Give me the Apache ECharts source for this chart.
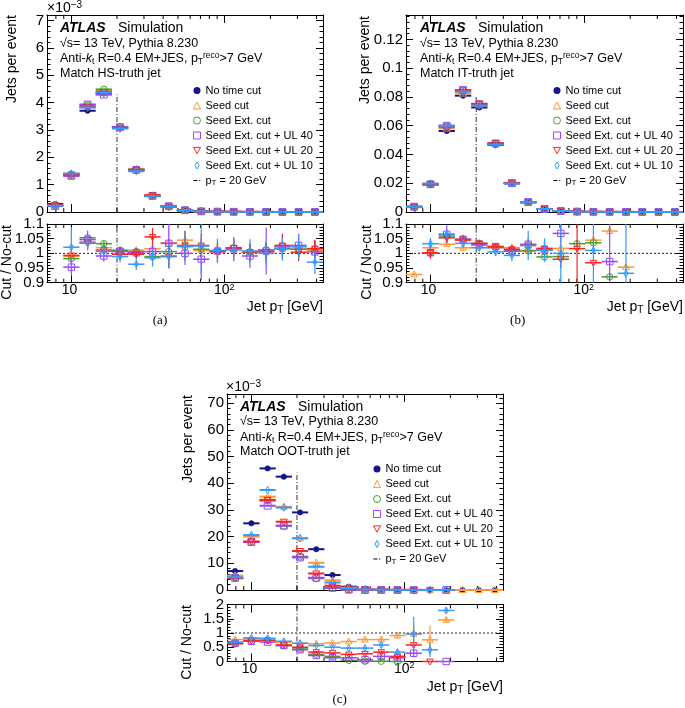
<!DOCTYPE html>
<html><head><meta charset="utf-8">
<script src="https://cdn.jsdelivr.net/npm/echarts@6/dist/echarts.min.js"></script>
<style>html,body{margin:0;padding:0;background:#fff}#c{width:685px;height:708px}</style>
</head><body><div id="c"></div><script>
// ---------------- data ----------------
const binEdges = [7, 8.93, 11.40, 14.54, 18.55, 23.67, 30.20, 38.53, 49.16, 62.73, 80.03, 102.1, 130.3, 166.2, 212.1, 270.6, 345.3, 440.5];
const xRange = [7, 440.5];
const xMinorTicks = [8, 9, 20, 30, 40, 50, 60, 70, 80, 90, 200, 300, 400];
const ptCut = 20;
const ptLineTops = [4.3, 0.08, 44];
const seriesNames = ['No time cut', 'Seed cut', 'Seed Ext. cut', 'Seed Ext. cut + UL 40', 'Seed Ext. cut + UL 20', 'Seed Ext. cut + UL 10'];
const ptName = 'pT = 20 GeV';
// y tick labels
const yTicksA = [0, 1, 2, 3, 4, 5, 6, 7];
const yTicksB = [0, 0.02, 0.04, 0.06, 0.08, 0.1, 0.12];
const yTicksC = [0, 10, 20, 30, 40, 50, 60, 70];
const rTicksAB = [0.9, 0.95, 1, 1.05, 1.1];
const rTicksC = [0, 0.5, 1, 1.5, 2];

// (a) HS-truth, jets per event x 10^-3
const hsNoCut = [0.29, 1.38, 3.70, 4.33, 3.08, 1.54, 0.59, 0.20, 0.065, 0.025, 0.012, 0.006, 0.003, 0.0015, 0.0008, 0.0004, 0.0002];
const hsSeed  = [0.25, 1.33, 3.86, 4.42, 3.10, 1.56, 0.60, 0.21, 0.068, 0.025, 0.012, 0.006, 0.003, 0.0015, 0.0008, 0.0004, 0.0002];
const hsExt   = [0.24, 1.35, 3.90, 4.48, 3.11, 1.55, 0.58, 0.20, 0.066, 0.025, 0.012, 0.006, 0.003, 0.0015, 0.0008, 0.0004, 0.0002];
const hsUL40  = [0.22, 1.32, 3.93, 4.29, 3.10, 1.54, 0.59, 0.21, 0.065, 0.025, 0.012, 0.006, 0.003, 0.0015, 0.0008, 0.0004, 0.0002];
const hsUL20  = [0.25, 1.37, 3.83, 4.38, 3.07, 1.54, 0.62, 0.20, 0.067, 0.026, 0.012, 0.006, 0.003, 0.0015, 0.0008, 0.0004, 0.0002];
const hsUL10  = [0.23, 1.41, 3.82, 4.36, 3.05, 1.49, 0.58, 0.20, 0.066, 0.026, 0.012, 0.006, 0.003, 0.0015, 0.0008, 0.0004, 0.0002];
const hsRSeed = [null, 0.990, 1.040, 1.019, 1.008, 1.011, 1.016, 1.036, 1.045, 1.010, 1.008, 1.012, 1.005, 1.008, 1.016, 1.015, 1.010];
const hsRExt  = [null, 0.982, 1.053, 1.033, 1.011, 1.006, 0.989, 1.006, 1.023, 1.014, 1.008, 1.019, 1.005, 1.012, 1.016, 1.014, 1.016];
const hsRUL40 = [null, 0.953, 1.047, 0.991, 1.006, 1.002, 1.006, 1.034, 1.000, 0.980, 1.008, 1.016, 0.991, 1.008, 1.022, 1.027, 1.005];
const hsRUL20 = [null, 0.993, 1.035, 1.011, 0.997, 0.997, 1.056, 0.989, 1.027, 1.027, 1.005, 1.019, 1.005, 1.005, 1.027, 1.004, 1.016];
const hsRUL10 = [null, 1.021, 1.035, 1.007, 0.989, 0.963, 0.985, 0.991, 1.025, 1.025, 1.010, 1.012, 1.008, 1.000, 1.015, 1.022, 0.970];
const hsESeed = [null, 0.012, 0.010, 0.010, 0.010, 0.010, 0.012, 0.015, 0.020, 0.025, 0.025, 0.025, 0.025, 0.025, 0.025, 0.025, 0.025];
const hsEExt  = [null, 0.012, 0.010, 0.010, 0.010, 0.010, 0.012, 0.015, 0.020, 0.025, 0.025, 0.025, 0.025, 0.025, 0.025, 0.025, 0.025];
const hsEUL40 = [null, 0.030, 0.030, 0.020, 0.015, 0.015, 0.020, 0.085, 0.040, 0.070, 0.040, 0.040, 0.040, 0.080, 0.040, 0.040, 0.040];
const hsEUL20 = [null, 0.020, 0.020, 0.015, 0.015, 0.015, 0.030, 0.040, 0.050, 0.040, 0.030, 0.030, 0.030, 0.030, 0.040, 0.030, 0.030];
const hsEUL10 = [null, 0.068, 0.025, 0.020, 0.020, 0.020, 0.030, 0.040, 0.050, 0.095, 0.040, 0.040, 0.040, 0.040, 0.040, 0.040, 0.040];

// (b) IT-truth, jets per event
const itNoCut = [0.0035, 0.0192, 0.0563, 0.0809, 0.0727, 0.0466, 0.0199, 0.0067, 0.0021, 0.0007, 0.00025, 0.0001, 0.00005, 0.00003, 0.00002, 0.00001, 0.00001];
const itSeed  = [0.0033, 0.0196, 0.0581, 0.0824, 0.0747, 0.0477, 0.0203, 0.0068, 0.0021, 0.0007, 0.00025, 0.0001, 0.00005, 0.00003, 0.00002, 0.00001, 0.00001];
const itExt   = [0.0036, 0.0193, 0.0596, 0.0848, 0.0752, 0.0475, 0.0201, 0.0068, 0.0021, 0.0007, 0.00026, 0.0001, 0.00005, 0.00003, 0.00002, 0.00001, 0.00001];
const itUL40  = [0.0037, 0.0193, 0.0600, 0.0848, 0.0749, 0.0477, 0.0201, 0.0069, 0.0021, 0.0007, 0.00025, 0.0001, 0.00005, 0.00003, 0.00002, 0.00001, 0.00001];
const itUL20  = [0.0036, 0.0193, 0.0593, 0.0845, 0.0752, 0.0477, 0.0202, 0.0069, 0.0021, 0.0007, 0.00025, 0.0001, 0.00005, 0.00003, 0.00002, 0.00001, 0.00001];
const itUL10  = [0.0036, 0.0198, 0.0600, 0.0837, 0.0741, 0.0468, 0.0198, 0.0069, 0.0021, 0.0007, 0.00025, 0.0001, 0.00005, 0.00003, 0.00002, 0.00001, 0.00001];
const itRSeed = [0.928, 1.019, 1.031, 1.019, 1.027, 1.023, 1.019, 1.010, 1.014, 1.017, null, 1.045, 1.076, 0.953, null, null, null];
const itRExt  = [null, 1.002, 1.059, 1.048, 1.034, 1.019, 1.008, 1.008, 0.988, 0.989, 1.033, 1.036, 0.920, null, null, null, null];
const itRUL40 = [null, 1.002, 1.065, 1.048, 1.030, 1.023, 1.008, 1.031, 1.012, 1.068, null, null, 0.972, null, null, null, null];
const itRUL20 = [null, 1.002, 1.053, 1.045, 1.034, 1.023, 1.014, 1.027, 1.017, 0.980, 1.016, 0.968, null, null, null, null, null];
const itRUL10 = [null, 1.033, 1.065, 1.034, 1.019, 1.005, 0.993, 1.027, 1.011, 1.000, null, 1.010, null, 0.932, null, null, null];
const itESeed = [0.005, 0.008, 0.008, 0.008, 0.008, 0.008, 0.010, 0.012, 0.015, 0.020, null, 0.010, 0.010, 0.010, null, null, null];
const itEExt  = [null, 0.008, 0.008, 0.008, 0.008, 0.008, 0.010, 0.012, 0.015, 0.020, 0.010, 0.010, 0.010, null, null, null, null];
const itEUL40 = [null, 0.020, 0.030, 0.015, 0.012, 0.012, 0.015, 0.020, 0.020, 0.030, null, null, 0.500, null, null, null, null];
const itEUL20 = [null, 0.020, 0.015, 0.012, 0.012, 0.012, 0.015, 0.020, 0.030, 0.030, 0.500, 0.010, null, null, null, null, null];
const itEUL10 = [null, 0.020, 0.015, 0.015, 0.012, 0.015, 0.020, 0.050, 0.040, 0.500, null, 0.500, null, 0.500, null, null, null];

// (c) OOT-truth, jets per event x 10^-3
const ootNoCut = [7.1, 25.0, 45.6, 42.5, 29.1, 15.3, 5.6, 1.25, 0.40, 0.15, 0.06, 0.03, 0.015, 0.008, 0.004, 0.002, 0.001];
const ootSeed  = [5.4, 20.0, 35.0, 31.2, 19.4, 10.2, 3.6, 0.90, 0.30, 0.12, 0.055, 0.03, 0.012, 0.012, 0.004, 0.002, 0.001];
const ootExt   = [4.6, 18.0, 33.5, 24.1, 12.5, 4.4, 0.9, 0.05, 0.004, 0.002, 0.0, null, null, null, null, null, null];
const ootUL40  = [4.5, 18.0, 31.6, 24.1, 12.2, 4.6, 0.8, 0.16, 0.03, 0.03, 0.008, 0.008, null, 0.0, null, null, null];
const ootUL20  = [4.4, 18.2, 33.8, 25.6, 14.6, 6.2, 1.6, 0.33, 0.10, 0.05, 0.011, 0.017, 0.0, null, null, null, null];
const ootUL10  = [4.8, 20.6, 37.5, 30.9, 19.4, 8.7, 2.8, 0.60, 0.19, 0.09, 0.02, 0.03, 0.006, 0.014, null, null, null];
const ootRSeed = [0.77, 0.80, 0.82, 0.68, 0.64, 0.62, 0.65, 0.70, 0.77, 0.77, 0.91, 0.97, 0.76, 1.46, null, null, null];
const ootRExt  = [0.64, 0.71, 0.74, 0.56, 0.44, 0.25, 0.18, 0.04, 0.01, 0.01, 0.00, null, null, null, null, null, null];
const ootRUL40 = [0.64, 0.71, 0.68, 0.56, 0.41, 0.21, 0.13, 0.13, 0.06, 0.18, 0.13, 0.29, null, 0.00, null, null, null];
const ootRUL20 = [0.62, 0.74, 0.74, 0.58, 0.50, 0.33, 0.30, 0.25, 0.27, 0.33, 0.18, 0.58, 0.00, null, null, null, null];
const ootRUL10 = [0.68, 0.83, 0.80, 0.71, 0.64, 0.56, 0.50, 0.47, 0.47, 0.58, 0.33, 0.97, 0.41, 1.79, null, null, null];
const ootESeed = [0.03, 0.02, 0.02, 0.02, 0.02, 0.02, 0.03, 0.04, 0.06, 0.08, 0.10, 0.30, 0.50, 0.10, null, null, null];
const ootEExt  = [0.03, 0.02, 0.02, 0.02, 0.02, 0.02, 0.02, 0.02, 0.02, 0.02, 0.02, null, null, null, null, null, null];
const ootEUL40 = [0.03, 0.02, 0.02, 0.02, 0.02, 0.02, 0.02, 0.03, 0.03, 0.05, 0.06, 0.15, null, 0.00, null, null, null];
const ootEUL20 = [0.03, 0.02, 0.02, 0.02, 0.02, 0.02, 0.03, 0.04, 0.05, 0.06, 0.08, 0.10, 0.00, null, null, null, null];
const ootEUL10 = [0.03, 0.02, 0.02, 0.02, 0.02, 0.02, 0.03, 0.04, 0.05, 0.06, 0.08, 0.60, 0.25, 0.10, null, null, null];

// ---------------- style / layout ----------------
const FONT = '"Liberation Sans", Arial, Helvetica, sans-serif';
const SERIF = '"Liberation Serif", "Times New Roman", serif';
const colors = ['#14148c', '#ff9933', '#44a033', '#9a44ff', '#ff2020', '#3399ff'];
const markers = ['dot', 'tri', 'circ', 'sq', 'itri', 'dia'];

const panels = [
  { main: [hsNoCut, hsSeed, hsExt, hsUL40, hsUL20, hsUL10],
    ratio: [hsRSeed, hsRExt, hsRUL40, hsRUL20, hsRUL10],
    rerr: [hsESeed, hsEExt, hsEUL40, hsEUL20, hsEUL10],
    yMax: 7.2, yInt: 1, rMin: 0.9, rMax: 1.1, rInt: 0.05, yTicks: yTicksA, rTicks: rTicksAB,
    grid: [47, 15, 276, 197], rgrid: [47, 224, 276, 58.7], legend: [193, 84] },
  { main: [itNoCut, itSeed, itExt, itUL40, itUL20, itUL10],
    ratio: [itRSeed, itRExt, itRUL40, itRUL20, itRUL10],
    rerr: [itESeed, itEExt, itEUL40, itEUL20, itEUL10],
    yMax: 0.137, yInt: 0.02, rMin: 0.9, rMax: 1.1, rInt: 0.05, yTicks: yTicksB, rTicks: rTicksAB,
    grid: [406, 15, 277, 197], rgrid: [406, 224, 277, 58.7], legend: [553, 84] },
  { main: [ootNoCut, ootSeed, ootExt, ootUL40, ootUL20, ootUL10],
    ratio: [ootRSeed, ootRExt, ootRUL40, ootRUL20, ootRUL10],
    rerr: [ootESeed, ootEExt, ootEUL40, ootEUL20, ootEUL10],
    yMax: 73.5, yInt: 10, rMin: 0, rMax: 2, rInt: 0.5, yTicks: yTicksC, rTicks: rTicksC,
    grid: [227, 394, 276, 196], rgrid: [227, 604.5, 276, 57], legend: [373, 462.5] }
];

function markerShape(mk, x, y, c, s) {
  const st = { stroke: c, lineWidth: 1, fill: 'none' };
  switch (mk) {
    case 'dot': return { type: 'circle', shape: { cx: x, cy: y, r: s * 0.8 }, style: { fill: c, stroke: c, lineWidth: 0.5 } };
    case 'circ': return { type: 'circle', shape: { cx: x, cy: y, r: s }, style: st };
    case 'sq': return { type: 'rect', shape: { x: x - s, y: y - s, width: 2 * s, height: 2 * s }, style: st };
    case 'tri': return { type: 'polygon', shape: { points: [[x, y - s * 1.1], [x - s, y + s * 0.75], [x + s, y + s * 0.75]] }, style: st };
    case 'itri': return { type: 'polygon', shape: { points: [[x, y + s * 1.1], [x - s, y - s * 0.75], [x + s, y - s * 0.75]] }, style: st };
    default: return { type: 'polygon', shape: { points: [[x, y - s * 1.1], [x + s * 0.65, y], [x, y + s * 1.1], [x - s * 0.65, y]] }, style: st };
  }
}

function histRender(mk, color, lw, ms) {
  return function (params, api) {
    const lo = api.value(0), hi = api.value(1), v = api.value(2), e = api.value(3);
    const cs = params.coordSys;
    const p1 = api.coord([lo, v]), p2 = api.coord([hi, v]);
    const top = cs.y, bot = cs.y + cs.height;
    let y = p1[1];
    if (y < top - 1 || y > bot + 1) return null;
    y = Math.min(Math.max(y, top), bot);
    const xc = (p1[0] + p2[0]) / 2;
    const x1 = Math.max(p1[0], cs.x), x2 = Math.min(p2[0], cs.x + cs.width);
    const ch = [{ type: 'line', shape: { x1: x1, y1: y, x2: x2, y2: y }, style: { stroke: color, lineWidth: lw } }];
    if (e > 0) {
      const ya = api.coord([lo, v + e])[1], yb = api.coord([lo, v - e])[1];
      ch.push({ type: 'line', shape: { x1: xc, y1: Math.max(ya, top), x2: xc, y2: Math.min(yb, bot) }, style: { stroke: color, lineWidth: 1.2 } });
    }
    ch.push(markerShape(mk, xc, y, color, ms));
    return { type: 'group', children: ch };
  };
}

function histData(vals, errs) {
  const out = [];
  vals.forEach((v, i) => {
    if (v === null || v === undefined) return;
    out.push([binEdges[i], binEdges[i + 1], v, errs ? (errs[i] || 0) : 0]);
  });
  return out;
}

const grid = [], xAxis = [], yAxis = [], series = [], legend = [];
const axisLineStyle = { show: true, onZero: false, lineStyle: { color: '#000', width: 1 } };

panels.forEach((P, pi) => {
  [P.grid, P.rgrid].forEach((g, k) => {
    const gi = grid.length;
    const isR = k === 1;
    const ymin = isR ? P.rMin : 0, ymax = isR ? P.rMax : P.yMax, yint = isR ? P.rInt : P.yInt;
    grid.push({ left: g[0], top: g[1], width: g[2], height: g[3], containLabel: false, outerBoundsMode: 'none' });
    const xa = {
      type: 'log', logBase: 10, gridIndex: gi, min: xRange[0], max: xRange[1],
      axisLine: axisLineStyle,
      axisTick: { show: true, inside: true, length: 8, lineStyle: { color: '#000', width: 1 } },
      splitLine: { show: false }, minorTick: { show: false }, minorSplitLine: { show: false },
      axisLabel: {
        show: isR, showMinLabel: false, showMaxLabel: false, hideOverlap: false, margin: 0, color: '#000', fontSize: 14, fontFamily: FONT,
        formatter: function (v) { const r = Math.round(v); return r === 100 ? '{b|10}{s|2}' : (r === 10 ? '{b|10}{s| }' : ''); },
        rich: { b: { fontSize: 14, fontFamily: FONT, color: '#000', lineHeight: 15 }, s: { fontSize: 9, fontFamily: FONT, color: '#000', verticalAlign: 'top', lineHeight: 9 } }
      }
    };
    xAxis.push(Object.assign({}, xa, { position: 'bottom' }));
    xAxis.push(Object.assign({}, xa, { position: 'top', axisLabel: { show: false } }));
    const ya = {
      type: 'value', gridIndex: gi, min: ymin, max: ymax, interval: yint,
      axisLine: axisLineStyle,
      axisTick: { show: true, inside: true, length: 7, lineStyle: { color: '#000', width: 1 } },
      minorTick: { show: true, splitNumber: 5, length: 3.5, lineStyle: { color: '#000', width: 1 } },
      splitLine: { show: false }, minorSplitLine: { show: false },
      axisLabel: { show: false }
    };
    yAxis.push(Object.assign({}, ya, { position: 'left' }));
    yAxis.push(Object.assign({}, ya, { position: 'right' }));

    const xi = 2 * gi, yi = 2 * gi;
    // y tick labels placed through the y scale
    series.push({
      type: 'custom', xAxisIndex: xi, yAxisIndex: yi, silent: true, animation: false, z: 5,
      encode: { x: 0, y: 1 },
      data: (isR ? P.rTicks : P.yTicks).map(v => [xRange[0], v]),
      renderItem: function (params, api) {
        const cs = params.coordSys;
        const y = api.coord([api.value(0), api.value(1)])[1];
        return { type: 'text', style: { text: String(api.value(1)), x: cs.x - 3, y: y, align: 'right', verticalAlign: 'middle', fill: '#000', font: '15px ' + FONT } };
      }
    });
    // x minor ticks (bottom & top)
    series.push({
      type: 'custom', xAxisIndex: xi, yAxisIndex: yi, silent: true, animation: false, z: 5,
      encode: { x: 0, y: 1 },
      data: xMinorTicks.filter(v => v > xRange[0] && v < xRange[1]).map(v => [v, ymin]),
      renderItem: function (params, api) {
        const cs = params.coordSys;
        const x = api.coord([api.value(0), api.value(1)])[0];
        const st = { stroke: '#000', lineWidth: 1 };
        return { type: 'group', children: [
          { type: 'line', shape: { x1: x, y1: cs.y + cs.height, x2: x, y2: cs.y + cs.height - 4 }, style: st },
          { type: 'line', shape: { x1: x, y1: cs.y, x2: x, y2: cs.y + 4 }, style: st }
        ] };
      }
    });
    // pT = 20 GeV dash-dot vertical line
    series.push({
      type: 'custom', name: isR ? '' : ptName, xAxisIndex: xi, yAxisIndex: yi, silent: true, animation: false, z: 3,
      encode: { x: 0, y: [1, 2] }, itemStyle: { color: '#000' },
      data: [[ptCut, ymin, isR ? ymax : ptLineTops[pi]]],
      renderItem: function (params, api) {
        const a = api.coord([api.value(0), api.value(1)]), b = api.coord([api.value(0), api.value(2)]);
        return { type: 'line', shape: { x1: a[0], y1: a[1], x2: b[0], y2: b[1] }, style: { stroke: '#333', lineWidth: 1, lineDash: [5, 2, 1, 2] } };
      }
    });
    if (isR) {
      // dotted reference line at ratio = 1
      series.push({
        type: 'custom', xAxisIndex: xi, yAxisIndex: yi, silent: true, animation: false, z: 3,
        encode: { x: [0, 1], y: 2 },
        data: [[xRange[0], xRange[1], 1]],
        renderItem: function (params, api) {
          const a = api.coord([api.value(0), api.value(2)]), b = api.coord([api.value(1), api.value(2)]);
          return { type: 'line', shape: { x1: a[0], y1: a[1], x2: b[0], y2: b[1] }, style: { stroke: '#222', lineWidth: 1, lineDash: [2, 2] } };
        }
      });
      P.ratio.forEach((arr, j) => {
        series.push({
          type: 'custom', name: seriesNames[j + 1], xAxisIndex: xi, yAxisIndex: yi, animation: false, z: 10 + j,
          encode: { x: [0, 1], y: 2 }, itemStyle: { color: colors[j + 1] },
          data: histData(arr, P.rerr[j]),
          renderItem: histRender(markers[j + 1], colors[j + 1], 1.5, 3.2)
        });
      });
    } else {
      P.main.forEach((arr, j) => {
        series.push({
          type: 'custom', name: seriesNames[j], xAxisIndex: xi, yAxisIndex: yi, animation: false, z: 10 + j,
          encode: { x: [0, 1], y: 2 }, itemStyle: { color: colors[j] },
          data: histData(arr, null),
          renderItem: histRender(markers[j], colors[j], 2, 3.4)
        });
      });
    }
  });

  const icons = ['circle', 'triangle', 'circle', 'rect', 'path://M0,0L10,0L5,9Z', 'path://M3,0L6,5L3,10L0,5Z'];
  const ldata = seriesNames.map((n, i) => ({
    name: n, icon: icons[i],
    itemStyle: i === 0 ? { color: colors[0], borderWidth: 0 } : { color: 'rgba(0,0,0,0)', borderColor: colors[i], borderWidth: 1 }
  }));
  ldata.push({ name: ptName, icon: 'path://M0,0h0.05v0.05h-0.05zM0,3h4v1.1h-4zM5.6,3h1.2v1.1h-1.2zM6.95,6.95h0.05v0.05h-0.05z', itemStyle: { color: '#000', borderWidth: 0 } });
  legend.push({
    orient: 'vertical', left: P.legend[0], top: P.legend[1], itemWidth: 7, itemHeight: 7, itemGap: 2,
    selectedMode: false, data: ldata, padding: 0,
    formatter: function (n) { return n === ptName ? '{n|p}{s|T}{n| = 20 GeV}' : n; },
    textStyle: { fontSize: 11, fontFamily: FONT, color: '#000', lineHeight: 13,
      rich: { n: { fontSize: 11, fontFamily: FONT, color: '#000', lineHeight: 13 },
              s: { fontSize: 8, fontFamily: FONT, color: '#000', verticalAlign: 'bottom', lineHeight: 8 } } }
  });
});

// ---------------- texts ----------------
function txt(x, y, text, o) {
  o = o || {};
  const st = { text: text, x: 0, y: 0, fill: '#000', font: o.font || ('14px ' + FONT),
    align: o.align || 'left', textAlign: o.align || 'left', verticalAlign: 'middle', textVerticalAlign: 'middle' };
  if (o.rich) st.rich = o.rich;
  return { type: 'text', x: x, y: y, rotation: o.rot || 0, silent: true, style: st };
}
const R = (size, extra) => Object.assign({ fontSize: size, fontFamily: FONT, fill: '#000', color: '#000' }, extra || {});
const richInfo = {
  n: R(12.5, { lineHeight: 15 }),
  i: R(12.5, { lineHeight: 15, fontStyle: 'italic' }),
  s: R(8.5, { lineHeight: 8, verticalAlign: 'bottom' }),
  u: R(8.5, { lineHeight: 9, verticalAlign: 'top' })
};
const richAxis = { n: R(14, { lineHeight: 16 }), s: R(10, { lineHeight: 8, verticalAlign: 'bottom' }) };
const richExp = { n: R(14, { lineHeight: 16 }), u: R(10, { lineHeight: 10, verticalAlign: 'top' }) };
const truthLabels = ['Match HS-truth jet', 'Match IT-truth jet', 'Match OOT-truth jet'];
const infoPos = [[60, 28], [420, 28], [240, 406.7]];
const graphic = [];
infoPos.forEach((p, i) => {
  graphic.push(txt(p[0], p[1], 'ATLAS', { font: 'italic bold 14px ' + FONT }));
  graphic.push(txt(p[0] + 58, p[1], 'Simulation', { font: '14px ' + FONT }));
  graphic.push(txt(p[0], p[1] + 15.3, '{n|√s= 13 TeV, Pythia 8.230}', { rich: richInfo, font: '12.5px ' + FONT }));
  graphic.push(txt(p[0], p[1] + 30.6, '{n|Anti-}{i|k}{s|t}{n| R=0.4 EM+JES, p}{s|T}{u|reco}{n|>7 GeV}', { rich: richInfo, font: '12.5px ' + FONT }));
  graphic.push(txt(p[0], p[1] + 45.3, '{n|' + truthLabels[i] + '}', { rich: richInfo, font: '12.5px ' + FONT }));
});
graphic.push(txt(47, 8, '{n|×10}{u|−3}', { rich: richExp }));
graphic.push(txt(226, 387, '{n|×10}{u|−3}', { rich: richExp }));
// axis titles
[[12.5, 15], [365, 16], [188, 395]].forEach(p => graphic.push(txt(p[0], p[1], 'Jets per event', { rot: Math.PI / 2, align: 'right' })));
[[7.5, 225], [367.5, 225], [187.5, 605]].forEach(p => graphic.push(txt(p[0], p[1], 'Cut / No-cut', { rot: Math.PI / 2, align: 'right' })));
[[323, 307.5], [683, 307.5], [503, 687.5]].forEach(p => graphic.push(txt(p[0], p[1], '{n|Jet p}{s|T}{n| [GeV]}', { rich: richAxis, align: 'right' })));
// captions
[[160, 321, '(a)'], [517.7, 321, '(b)'], [339.7, 700, '(c)']].forEach(p => graphic.push(txt(p[0], p[1], p[2], { font: '13px ' + SERIF, align: 'center' })));

const chart = echarts.init(document.getElementById('c'), null, { renderer: 'canvas' });
chart.setOption({
  animation: false, backgroundColor: '#fff',
  grid: grid, xAxis: xAxis, yAxis: yAxis, series: series, legend: legend, graphic: graphic
});
</script></body></html>
